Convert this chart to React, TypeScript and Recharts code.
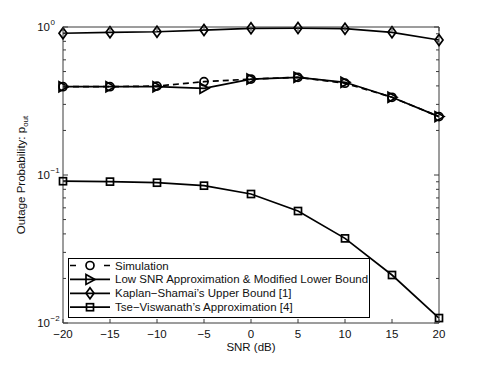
import { LineChart, Line, XAxis, YAxis, Legend, Label } from 'recharts';

// SNR in dB
const snr = [-20, -15, -10, -5, 0, 5, 10, 15, 20];
const simulation = [0.395, 0.395, 0.399, 0.427, 0.445, 0.457, 0.417, 0.335, 0.248];
const lowSnrApprox = [0.395, 0.395, 0.395, 0.385, 0.445, 0.457, 0.423, 0.335, 0.248];
const kaplanShamai = [0.907, 0.921, 0.929, 0.954, 0.98, 0.984, 0.974, 0.921, 0.817];
const tseViswanath = [0.0908, 0.0902, 0.0887, 0.0847, 0.0744, 0.0571, 0.0373, 0.0211, 0.0108];

const xTicks = [-20, -15, -10, -5, 0, 5, 10, 15, 20];
const yMajor = [0.01, 0.1, 1];
const yTicks = [
    0.01, 0.02, 0.03, 0.04, 0.05, 0.06, 0.07, 0.08, 0.09,
    0.1, 0.2, 0.3, 0.4, 0.5, 0.6, 0.7, 0.8, 0.9, 1,
];

type Shape = 'circle' | 'triangle' | 'diamond' | 'square';

const series: { key: string; name: string; shape: Shape; dashed: boolean }[] = [
    { key: 'sim', name: 'Simulation', shape: 'circle', dashed: true },
    { key: 'low', name: 'Low SNR Approximation & Modified Lower Bound', shape: 'triangle', dashed: false },
    { key: 'ks', name: 'Kaplan\u2212Shamai\u2019s Upper Bound [1]', shape: 'diamond', dashed: false },
    { key: 'tv', name: 'Tse\u2212Viswanath\u2019s Approximation [4]', shape: 'square', dashed: false },
];

const data = snr.map((s, i) => ({
    snr: s,
    sim: simulation[i],
    low: lowSnrApprox[i],
    ks: kaplanShamai[i],
    tv: tseViswanath[i],
}));

const FONT = '"Liberation Sans", Arial, Helvetica, sans-serif';
const FS = 11.5;
const axisColor = '#3a3a3a';
const textColor = '#111';

const fmtNum = (v: number) => (v < 0 ? `\u2212${-v}` : `${v}`);
const isMajor = (v: number) => yMajor.some((m) => Math.abs(m - v) < 1e-9);

function Marker({ shape, cx, cy }: { shape: Shape; cx: number; cy: number }) {
    const common = { fill: 'none', stroke: '#000', strokeWidth: 1.7 };
    if (shape === 'circle') return <circle cx={cx} cy={cy} r={4} {...common} />;
    if (shape === 'triangle')
        return <polygon points={`${cx - 4},${cy - 5} ${cx + 5},${cy} ${cx - 4},${cy + 5}`} {...common} />;
    if (shape === 'diamond')
        return <polygon points={`${cx},${cy - 5.5} ${cx + 4},${cy} ${cx},${cy + 5.5} ${cx - 4},${cy}`} {...common} />;
    return <rect x={cx - 3.5} y={cy - 3.5} width={7} height={7} {...common} />;
}

const BottomTick = (props: any) => {
    const { x, y, payload } = props;
    return (
        <g>
            <line x1={x} x2={x} y1={y} y2={y - 4} stroke={axisColor} />
            <text x={x} y={y + 15} textAnchor="middle" fontSize={FS} fill={textColor} fontFamily={FONT}>
                {fmtNum(payload.value)}
            </text>
        </g>
    );
};

const TopTick = (props: any) => {
    const { x, y } = props;
    return <line x1={x} x2={x} y1={y} y2={y + 4} stroke={axisColor} />;
};

const LeftTick = (props: any) => {
    const { x, y, payload } = props;
    const major = isMajor(payload.value);
    const exp = Math.round(Math.log10(payload.value));
    return (
        <g>
            <line x1={x} x2={x + (major ? 5 : 3)} y1={y} y2={y} stroke={axisColor} />
            {major && (
                <g fontFamily={FONT} fill={textColor}>
                    <text x={x - 13} y={y + 4} textAnchor="end" fontSize={FS}>10</text>
                    <text x={x - 12.5} y={y - 2.5} textAnchor="start" fontSize={8}>
                        {exp === 0 ? '0' : `\u2212${-exp}`}
                    </text>
                </g>
            )}
        </g>
    );
};

const RightTick = (props: any) => {
    const { x, y, payload } = props;
    const major = isMajor(payload.value);
    return <line x1={x} x2={x - (major ? 5 : 3)} y1={y} y2={y} stroke={axisColor} />;
};

const LegendBox = () => (
    <svg width={302} height={60} style={{ display: 'block' }}>
        <rect x={0.5} y={0.5} width={301} height={59} fill="#fff" stroke="#000" />
        {series.map((s, i) => {
            const cy = 7.5 + i * 13.9;
            return (
                <g key={s.key}>
                    <line
                        x1={2} x2={42} y1={cy} y2={cy} stroke="#000" strokeWidth={1.7}
                        strokeDasharray={s.dashed ? '6 28 6' : undefined}
                    />
                    <Marker shape={s.shape} cx={22} cy={cy} />
                    <text x={47} y={cy + 4} fontSize={FS} fill={textColor} fontFamily={FONT}>{s.name}</text>
                </g>
            );
        })}
    </svg>
);

export default function App() {
    return (
        <div style={{ position: 'absolute', left: 0, top: 0, width: 485, height: 365, background: '#fff' }}>
            <LineChart width={485} height={365} data={data} margin={{ top: 0, right: 0, bottom: 0, left: 0 }}>
                <XAxis
                    dataKey="snr" type="number" domain={[-20, 20]} ticks={xTicks} height={42}
                    tickSize={0} tickMargin={0} tickLine={false} stroke={axisColor} tick={BottomTick}
                    interval={0}
                >
                    <Label
                        content={(p: any) => {
                            const vb = p.viewBox;
                            return (
                                <text x={vb.x + vb.width / 2} y={vb.y + 27.5} textAnchor="middle" fontSize={FS} fill={textColor} fontFamily={FONT}>
                                    SNR (dB)
                                </text>
                            );
                        }}
                    />
                </XAxis>
                <XAxis
                    xAxisId="top" orientation="top" dataKey="snr" type="number" domain={[-20, 20]} allowDataOverflow
                    ticks={xTicks} height={27} tickSize={0} tickMargin={0} tickLine={false} stroke={axisColor}
                    tick={TopTick} interval={0}
                />
                <YAxis
                    scale="log" domain={[0.01, 1]} ticks={yTicks} width={63} interval={0}
                    tickSize={0} tickMargin={0} tickLine={false} stroke={axisColor} tick={LeftTick}
                >
                    <Label
                        content={(p: any) => {
                            const vb = p.viewBox;
                            const cx = 25;
                            const cy = vb.y + vb.height / 2;
                            return (
                                <text x={cx} y={cy} transform={`rotate(-90 ${cx} ${cy})`} textAnchor="middle" fontSize={FS} fill={textColor} fontFamily={FONT}>
                                    Outage Probability: p<tspan dy={3} fontSize={8}>out</tspan>
                                </text>
                            );
                        }}
                    />
                </YAxis>
                <YAxis
                    yAxisId="right" orientation="right" scale="log" domain={[0.01, 1]} allowDataOverflow
                    ticks={yTicks} width={46} interval={0} tickSize={0} tickMargin={0} tickLine={false}
                    stroke={axisColor} tick={RightTick}
                />
                <Legend
                    layout="horizontal" verticalAlign="middle" align="center"
                    wrapperStyle={{ left: 68, top: 258, width: 302, height: 60 }}
                    content={() => <LegendBox />}
                />
                {series.map((s) => (
                    <Line
                        key={s.key}
                        dataKey={s.key}
                        name={s.name}
                        stroke="#000"
                        strokeWidth={1.7}
                        strokeDasharray={s.dashed ? '6 4' : undefined}
                        isAnimationActive={false}
                        activeDot={false}
                        dot={(p: any) => <Marker key={`${s.key}-${p.index}`} shape={s.shape} cx={p.cx} cy={p.cy} />}
                    />
                ))}
            </LineChart>
        </div>
    );
}
